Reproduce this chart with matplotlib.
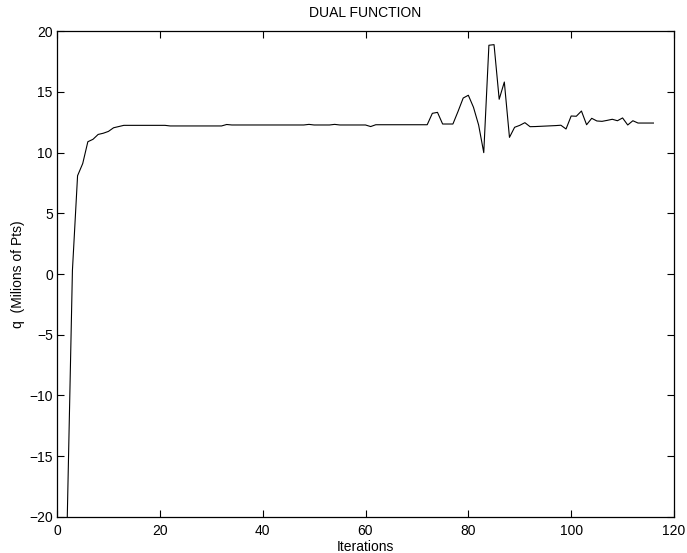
import matplotlib
matplotlib.use("Agg")
import matplotlib.pyplot as plt

plt.rcParams['font.family'] = ['Liberation Sans', 'DejaVu Sans']

iterations = list(range(2, 117))
q_values = [
    -20.0, 0.3, 8.1, 9.1, 10.9, 11.1, 11.5, 11.6, 11.75, 12.05,          # 2-11
    12.15, 12.25, 12.25, 12.25, 12.25, 12.25, 12.25, 12.25, 12.25, 12.25,  # 12-21
    12.2, 12.2, 12.2, 12.2, 12.2, 12.2, 12.2, 12.2, 12.2, 12.2,            # 22-31
    12.2, 12.32, 12.28, 12.28, 12.28, 12.28, 12.28, 12.28, 12.28, 12.28,   # 32-41
    12.28, 12.28, 12.28, 12.28, 12.28, 12.28, 12.28, 12.33, 12.28, 12.28,  # 42-51
    12.28, 12.28, 12.33, 12.28, 12.28, 12.28, 12.28, 12.28, 12.28, 12.15,  # 52-61
    12.3, 12.3, 12.3, 12.3, 12.3, 12.3, 12.3, 12.3, 12.3, 12.3,            # 62-71
    12.3, 13.24, 13.32, 12.36, 12.36, 12.36, 13.4, 14.5, 14.73, 13.74,     # 72-81
    12.28, 10.0, 18.85, 18.9, 14.4, 15.82, 11.26, 12.09, 12.25, 12.47,     # 82-91
    12.14, 12.15, 12.17, 12.19, 12.21, 12.23, 12.26, 11.95, 13.02, 13.0,   # 92-101
    13.43, 12.3, 12.83, 12.61, 12.58, 12.66, 12.75, 12.63, 12.86, 12.28,   # 102-111
    12.63, 12.44, 12.44, 12.44, 12.44,                                     # 112-116
]
x_ticks = [0, 20, 40, 60, 80, 100, 120]
y_ticks = [-20, -15, -10, -5, 0, 5, 10, 15, 20]

fig = plt.figure(figsize=(6.87, 5.53), dpi=100)
ax = fig.add_axes([57/687, 1 - 516.7/553, (674 - 57)/687, (516.7 - 31.3)/553])
ax.plot(iterations, q_values, color='black', linewidth=0.8)
ax.set_xlim(0, 120)
ax.set_ylim(-20, 20)
ax.set_xticks(x_ticks)
ax.set_yticks(y_ticks)
ax.tick_params(direction='in', length=5, width=0.8, top=True, right=True,
               labelsize=10)
ax.tick_params(axis='x', pad=5)
ax.tick_params(axis='y', pad=3)
for s in ax.spines.values():
    s.set_linewidth(0.9)
ax.set_title('DUAL FUNCTION', fontsize=10, pad=10)
ax.set_xlabel('Iterations', fontsize=10, labelpad=2)
ax.set_ylabel('q  (Milions of Pts)', fontsize=10, labelpad=3)
fig.savefig('out.png', dpi=100)
